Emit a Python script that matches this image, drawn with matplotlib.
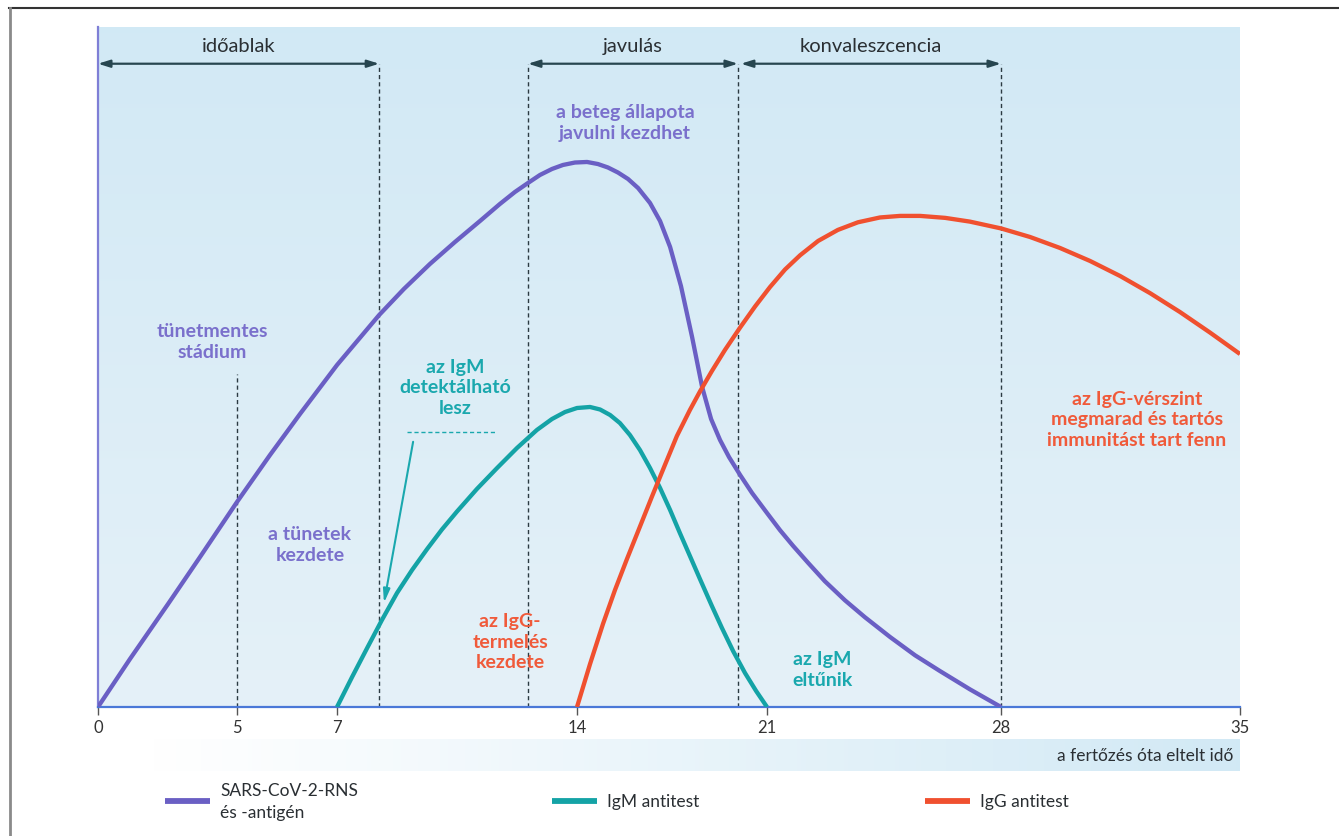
import numpy as np
import matplotlib
matplotlib.use("Agg")
import matplotlib.pyplot as plt
from matplotlib.lines import Line2D

plt.rcParams['font.family'] = ['Lato', 'DejaVu Sans']

# ---------------- data ----------------
tick_days = [0, 5, 7, 14, 21, 28, 35]
tick_labels = ["0", "5", "7", "14", "21", "28", "35"]
# schematic (non-uniform) spacing of the day ticks along the axis
tick_spacing = [0, 139, 239, 479, 669, 903, 1142]

sars_day = [0, 1.15, 2.52, 3.67, 5.0, 5.66, 6.26, 7.0, 8.23, 8.95, 9.71, 10.44, 11.17,
            11.75, 12.19, 12.57, 12.92, 13.27, 13.59, 13.94, 14.37, 14.77, 15.14, 15.51,
            15.88, 16.25, 16.69, 17.06, 17.43, 17.83, 18.24, 18.61, 18.94, 19.27, 19.6,
            20.01, 20.45, 21.0, 21.39, 21.78, 22.23, 22.73, 23.33, 23.93, 24.68, 25.43,
            26.17, 27.07, 28.0]
sars_val = [0, 7.06, 15.15, 22.06, 30.15, 37.06, 43.09, 50.29, 57.65, 61.47, 65.15, 68.38, 71.47,
            73.97, 75.74, 77.06, 78.24, 79.12, 79.71, 80.07, 80.15, 79.85, 79.34, 78.6,
            77.65, 76.32, 74.12, 71.47, 67.65, 61.91, 54.41, 47.06, 42.35, 39.26, 36.76,
            34.12, 31.47, 28.53, 26.0, 23.7, 21.2, 18.5, 15.7, 13.2, 10.3, 7.6,
            5.3, 2.6, 0]

igm_day = [7.0, 7.44, 7.88, 8.31, 8.75, 9.19, 9.63, 10.06, 10.5, 11.08, 11.67, 12.25, 12.83,
           13.27, 13.65, 14.0, 14.48, 14.85, 15.22, 15.58, 15.95, 16.32, 16.69, 17.06,
           17.43, 17.79, 18.16, 18.53, 18.97, 19.34, 19.75, 20.19, 20.6, 21.0]
igm_val = [0, 4.41, 8.68, 12.79, 16.76, 20.15, 23.24, 26.1, 28.75, 32.06, 35.15, 38.09, 40.74,
           42.35, 43.38, 43.97, 44.12, 43.75, 42.94, 41.76, 40.0, 37.79, 35.15, 32.21,
           28.97, 25.59, 22.21, 18.82, 14.85, 11.62, 8.24, 5.0, 2.35, 0]

igg_day = [14.0, 14.48, 14.96, 15.4, 15.84, 16.32, 16.76, 17.24, 17.68, 18.16, 18.53, 18.97,
           19.45, 20.01, 20.56, 21.09, 21.54, 21.99, 22.53, 23.12, 23.72, 24.38, 24.98,
           25.58, 26.33, 27.07, 28.0, 28.85, 29.73, 30.61, 31.49, 32.36, 33.24, 34.12, 35.0]
igg_val = [0, 6.32, 12.25, 17.21, 21.76, 26.54, 30.93, 35.6, 39.85, 43.68, 46.4, 49.41,
           52.5, 55.81, 58.9, 61.76, 64.34, 66.43, 68.54, 70.16, 71.28, 71.99, 72.22,
           72.22, 71.93, 71.38, 70.38, 69.12, 67.5, 65.59, 63.38, 60.88, 58.09, 55.07, 51.91]

phase_bounds = [8.23, 12.57, 19.93, 28.0]
symptom_day = 5
phases = [("időablak", 0, 8.23), ("javulás", 12.57, 19.93), ("konvaleszcencia", 20.04, 28.0)]

series_names = ["SARS-CoV-2-RNS\nés -antigén", "IgM antitest", "IgG antitest"]

# ---------------- style ----------------
C_SARS = "#6a5fc4"
C_IGM = "#14a3a6"
C_IGG = "#f0502f"
T_SARS = "#7a70cc"
T_IGM = "#1aa8ae"
T_IGG = "#f05a3a"
DARK = "#2b3a42"

W, H = 1339, 837
fig = plt.figure(figsize=(W / 100, H / 100), dpi=100)
fig.patch.set_facecolor("white")

ax = fig.add_axes([98 / W, 1 - 708 / H, (1240 - 98) / W, (708 - 28) / H])


def fwd(x):
    return np.interp(x, tick_days, tick_spacing)


def inv(x):
    return np.interp(x, tick_spacing, tick_days)


ax.set_xscale("function", functions=(fwd, inv))
ax.set_xlim(0, 35)
ax.set_ylim(0, 100)

# background gradient
top = np.array([0.823, 0.914, 0.961])
bot = np.array([0.898, 0.945, 0.973])
g = np.linspace(0, 1, 256)[:, None]
grad = (top[None, :] * (1 - g) + bot[None, :] * g)[:, None, :]
grad = np.repeat(grad, 2, axis=1)
ax.imshow(grad, extent=[0, 1, 0, 1], transform=ax.transAxes, aspect="auto", zorder=0)

# spines / ticks
for s in ["top", "right"]:
    ax.spines[s].set_visible(False)
ax.spines["left"].set_color("#7f7fd6")
ax.spines["left"].set_linewidth(1.6)
ax.spines["bottom"].set_color("#4a78d8")
ax.spines["bottom"].set_linewidth(1.6)
ax.set_yticks([])
ax.set_xticks(tick_days)
ax.set_xticklabels(tick_labels)
ax.tick_params(axis="x", direction="out", length=6, width=1, color="#555555",
               labelsize=12, labelcolor="#333333", pad=3)

# dashed phase lines
arrow_v = 94.6
for b in phase_bounds:
    ax.plot([b, b], [0, arrow_v], ls=(0, (3, 2.2)), color=DARK, lw=1.0, zorder=2)
ax.plot([symptom_day, symptom_day], [0, 49], ls=(0, (3, 2.2)), color=DARK, lw=1.0, zorder=2)

# phase arrows
for name, a, b in phases:
    ax.annotate("", xy=(b, arrow_v), xytext=(a, arrow_v),
                arrowprops=dict(arrowstyle="<|-|>,head_length=0.7,head_width=0.22",
                                color="#274650", lw=1.6, shrinkA=0, shrinkB=0), zorder=3)
    mid = float(inv((fwd(a) + fwd(b)) / 2))
    ax.text(mid, 97.3, name, ha="center", va="center", fontsize=14.5, color="#2a2f33", zorder=3)

# curves
for d, v, c in [(sars_day, sars_val, C_SARS), (igm_day, igm_val, C_IGM), (igg_day, igg_val, C_IGG)]:
    ax.plot(d, v, color=c, lw=3.1, solid_capstyle="butt", solid_joinstyle="round", zorder=4)

# annotations
kw = dict(ha="center", va="center", fontsize=14, fontweight="bold", linespacing=1.25, zorder=5)
ax.text(15.77, 86.0, "a beteg állapota\njavulni kezdhet", color=T_SARS, **kw)
ax.text(4.1, 53.8, "tünetmentes\nstádium", color=T_SARS, **kw)
ax.text(6.46, 24.0, "a tünetek\nkezdete", color=T_SARS, **kw)
ax.text(10.44, 47.1, "az IgM\ndetektálható\nlesz", color=T_IGM, **kw)
ax.text(12.05, 9.7, "az IgG-\ntermelés\nkezdete", color=T_IGG, **kw)
ax.text(22.65, 5.6, "az IgM\neltűnik", color=T_IGM, **kw)
ax.text(31.98, 42.4, "az IgG-vérszint\nmegmarad és tartós\nimmunitást tart fenn", color=T_IGG, **kw)

ax.plot([9.04, 11.6], [40.4, 40.4], ls=(0, (3, 2)), color=T_IGM, lw=1.0, zorder=5)
ax.annotate("", xy=(8.37, 15.3), xytext=(9.22, 39.0),
            arrowprops=dict(arrowstyle="-|>,head_length=0.8,head_width=0.2",
                            color=T_IGM, lw=1.5, shrinkA=0, shrinkB=0), zorder=5)

# axis-title bar with gradient
bar = fig.add_axes([150 / W, 1 - 772 / H, (1240 - 150) / W, 32 / H])
hg = np.linspace(0, 1, 256)[None, :, None]
left_c = np.array([1.0, 1.0, 1.0])
right_c = np.array([0.823, 0.914, 0.961])
hgrad = left_c[None, None, :] * (1 - hg) + right_c[None, None, :] * hg
bar.imshow(np.repeat(hgrad, 2, axis=0), extent=[0, 1, 0, 1], aspect="auto")
bar.set_axis_off()
fig.text(1233 / W, 1 - 756 / H, "a fertőzés óta eltelt idő", ha="right", va="center",
         fontsize=12.5, color="#2a2f33")

# legend
leg_items = [(165, C_SARS), (552, C_IGM), (925, C_IGG)]
for (x0, col), name in zip(leg_items, series_names):
    fig.add_artist(Line2D([x0 / W, (x0 + 45) / W], [1 - 802 / H, 1 - 802 / H], color=col, lw=4.2,
                          solid_capstyle="butt"))
    fig.text((x0 + 55) / W, 1 - 802 / H, name, ha="left", va="center", fontsize=12.5,
             color="#2a2f33", linespacing=1.5)

# frame
fig.add_artist(Line2D([9 / W, 1], [1 - 9 / H, 1 - 9 / H], color="#333333", lw=1.5))
fig.add_artist(Line2D([9.5 / W, 9.5 / W], [0, 1 - 9 / H], color="#8a8a8a", lw=2))

fig.savefig("out.png", dpi=100)
